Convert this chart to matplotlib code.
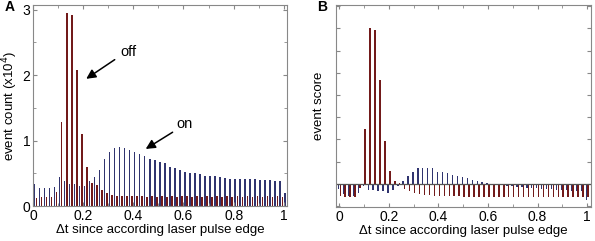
import numpy as np
import matplotlib.pyplot as plt
from matplotlib.ticker import MultipleLocator, NullFormatter

plt.rcParams['font.family'] = ['Liberation Sans', 'DejaVu Sans']

# panel A: histogram of event counts (x10^4), bins of 0.02
centers_a = [0.01 + 0.02 * k for k in range(51)]
on_count = [0.34, 0.27, 0.27, 0.27, 0.29, 0.44, 0.38, 0.34, 0.33, 0.30,
            0.30, 0.38, 0.44, 0.55, 0.72, 0.82, 0.89, 0.90, 0.89, 0.86,
            0.83, 0.80, 0.77, 0.72, 0.71, 0.68, 0.65, 0.60, 0.58, 0.55,
            0.52, 0.50, 0.50, 0.49, 0.46, 0.46, 0.46, 0.45, 0.43, 0.42,
            0.42, 0.42, 0.41, 0.41, 0.41, 0.40, 0.40, 0.40, 0.39, 0.39,
            0.20]
off_count = [0.13, 0.14, 0.14, 0.14, 0.22, 1.28, 2.95, 2.92, 2.08, 1.10,
             0.60, 0.35, 0.32, 0.25, 0.20, 0.17, 0.16, 0.15, 0.15, 0.15,
             0.15, 0.15, 0.14, 0.15, 0.14, 0.15, 0.14, 0.15, 0.14, 0.15,
             0.15, 0.14, 0.15, 0.14, 0.15, 0.14, 0.15, 0.14, 0.15, 0.14,
             0.15, 0.14, 0.15, 0.14, 0.15, 0.14, 0.15, 0.14, 0.15, 0.14,
             0.08]

# panel B: event score (arbitrary units)
centers_b = [0.02 * k for k in range(51)]
on_score = [-0.25, -0.45, -0.55, -0.55, -0.40, -0.10, -0.30, -0.30, -0.35, -0.35,
            -0.40, -0.30, -0.10, 0.10, 0.33, 0.55, 0.70, 0.73, 0.72, 0.70,
            0.54, 0.51, 0.48, 0.40, 0.36, 0.30, 0.25, 0.18, 0.13, 0.07,
            0.05, 0.00, -0.05, -0.08, -0.10, -0.12, -0.15, -0.15, -0.18, -0.20,
            -0.20, -0.22, -0.25, -0.25, -0.28, -0.30, -0.30, -0.32, -0.35, -0.35,
            -0.75]
off_score = [-0.55, -0.60, -0.60, -0.62, -0.20, 2.47, 7.00, 6.94, 4.68, 1.92,
             0.57, 0.10, 0.05, -0.25, -0.35, -0.40, -0.45, -0.50, -0.50, -0.55,
             -0.55, -0.55, -0.55, -0.55, -0.55, -0.58, -0.58, -0.58, -0.58, -0.58,
             -0.58, -0.58, -0.60, -0.58, -0.60, -0.58, -0.60, -0.58, -0.60, -0.58,
             -0.60, -0.58, -0.60, -0.58, -0.60, -0.58, -0.60, -0.58, -0.60, -0.58,
             -0.60]

blue = '#30346f'
red = '#721a1a'
frame = '#888888'
w = 0.006


def style_axes(ax):
    for s in ax.spines.values():
        s.set_color(frame)
        s.set_linewidth(0.8)
    ax.tick_params(which='both', direction='in', top=True, right=True,
                   color=frame, labelsize=10, pad=2)
    ax.tick_params(which='major', length=3)
    ax.tick_params(which='minor', length=2)
    ax.xaxis.set_major_locator(MultipleLocator(0.2))
    ax.xaxis.set_minor_locator(MultipleLocator(0.1))
    ax.xaxis.set_major_formatter(lambda v, p: f'{v:g}')
    ax.set_xlabel('Δt since according laser pulse edge', fontsize=9.5, labelpad=1)


fig = plt.figure(figsize=(5.95, 2.41), dpi=100)

ax1 = fig.add_axes([0.0555, 0.145, 0.4265, 0.834])
ca = np.array(centers_a)
ax1.bar(ca - 0.0045, on_count, width=w, color=blue, linewidth=0)
ax1.bar(ca + 0.0045, off_count, width=w, color=red, linewidth=0)
ax1.set_xlim(0, 1.012)
ax1.set_ylim(0, 3.07)
ax1.yaxis.set_major_locator(MultipleLocator(1))
ax1.yaxis.set_minor_locator(MultipleLocator(0.5))
style_axes(ax1)
ax1.set_ylabel('event count (x10$^4$)', fontsize=9.5, labelpad=2)
ax1.annotate('', xy=(0.203, 1.92), xytext=(0.335, 2.26),
             arrowprops=dict(arrowstyle='-|>', color='k', lw=1.1, mutation_scale=14))
ax1.text(0.38, 2.35, 'off', fontsize=10.5, ha='center', va='center')
ax1.annotate('', xy=(0.44, 0.85), xytext=(0.566, 1.15),
             arrowprops=dict(arrowstyle='-|>', color='k', lw=1.1, mutation_scale=14))
ax1.text(0.606, 1.25, 'on', fontsize=10.5, ha='center', va='center')
fig.text(0.008, 0.955, 'A', fontsize=10, fontweight='bold')

ax2 = fig.add_axes([0.565, 0.141, 0.428, 0.838])
cb = np.array(centers_b)
ax2.bar(cb - 0.0035, on_score, width=w, color=blue, linewidth=0)
ax2.bar(cb + 0.0035, off_score, width=w, color=red, linewidth=0)
ax2.axhline(0, color='#555555', lw=0.9)
ax2.set_xlim(-0.013, 1.015)
ax2.set_ylim(-1.05, 8.05)
ax2.yaxis.set_major_locator(MultipleLocator(1))
ax2.yaxis.set_major_formatter(NullFormatter())
style_axes(ax2)
ax2.set_ylabel('event score', fontsize=9.5, labelpad=6)
fig.text(0.533, 0.955, 'B', fontsize=10, fontweight='bold')

fig.savefig('out.png', dpi=100)
